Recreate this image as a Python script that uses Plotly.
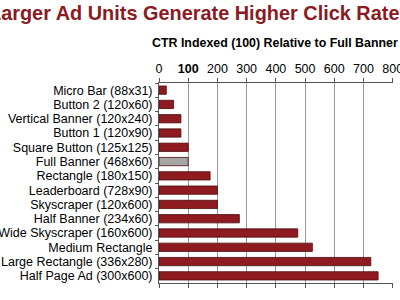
import plotly.graph_objects as go

categories = [
    "Micro Bar (88x31)", "Button 2 (120x60)", "Vertical Banner (120x240)",
    "Button 1 (120x90)", "Square Button (125x125)", "Full Banner (468x60)",
    "Rectangle (180x150)", "Leaderboard (728x90)", "Skyscraper (120x600)",
    "Half Banner (234x60)", "Wide Skyscraper (160x600)", "Medium Rectangle",
    "Large Rectangle (336x280)", "Half Page Ad (300x600)",
]
values = [25, 50, 75, 75, 100, 100, 175, 200, 200, 275, 475, 525, 725, 750]
tick_vals = [0, 100, 200, 300, 400, 500, 600, 700, 800]
tick_text = ["0", "<b>100</b>", "200", "300", "400", "500", "600", "700", "800"]

RED = "#8E1B1F"
GRAY = "#A6A6A6"
colors = [GRAY if c.startswith("Full Banner") else RED for c in categories]

fig = go.Figure(go.Bar(
    x=values, y=categories, orientation="h",
    marker=dict(color=colors, line=dict(color="#4A0A0C", width=0.8)),
    width=0.58,
))

fig.update_layout(
    width=400, height=300,
    margin=dict(l=159, r=7, t=83, b=17),
    paper_bgcolor="white", plot_bgcolor="white",
    font=dict(family="Liberation Sans, Arial, sans-serif", color="black"),
    showlegend=False,
    annotations=[
        dict(text="<b>Larger Ad Units Generate Higher Click Rates</b>",
             xref="paper", yref="paper", x=(200 - 159) / 234, y=1 + (83 - 13) / 200,
             xanchor="center", yanchor="middle", showarrow=False,
             font=dict(size=19.9, color="#8B1A22")),
        dict(text="<b>CTR Indexed (100) Relative to Full Banner</b>",
             xref="paper", yref="paper", x=(275 - 159) / 234, y=1 + (83 - 43) / 200,
             xanchor="center", yanchor="middle", showarrow=False,
             font=dict(size=12.4, color="black")),
    ],
)

fig.update_xaxes(
    side="top", range=[0, 801], tickvals=tick_vals, ticktext=tick_text,
    showgrid=True, gridcolor="#9A9A9A", gridwidth=1,
    showline=True, linecolor="#555555", linewidth=1, mirror="ticks",
    ticks="outside", ticklen=4, tickcolor="#555555", ticklabeloverflow="allow",
    tickfont=dict(size=12.5, color="black"), zeroline=False, automargin=False,
)
fig.update_yaxes(
    autorange="reversed", tickmode="linear", dtick=1,
    showline=True, linecolor="#555555", linewidth=1,
    ticks="outside", ticklen=3, tickcolor="#555555", tickson="boundaries",
    tickfont=dict(size=12.5, color="black"), showgrid=False, automargin=False,
    ticklabelstandoff=3,
)

fig.write_html("out.html")
